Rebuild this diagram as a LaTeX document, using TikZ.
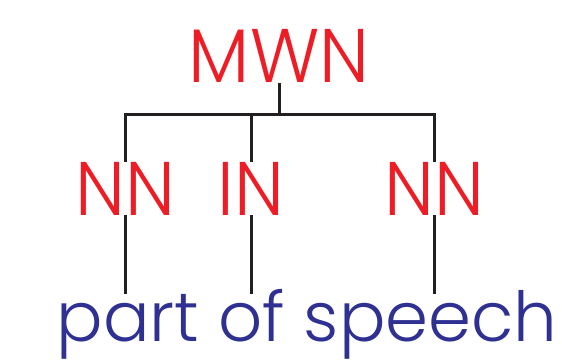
\documentclass[tikz,border=0pt]{standalone}
\usepackage{fontspec}
\usepackage{graphicx}
\setmainfont{Poppins}[UprightFont=* Light]
\definecolor{tred}{HTML}{EE1C25}
\definecolor{tblue}{HTML}{2E3192}
\definecolor{tline}{HTML}{231F20}
\newcommand{\capsx}[1]{\scalebox{0.955}[1]{#1}}
\newcommand{\wordsx}[1]{\scalebox{1.0}[1]{#1}}
\begin{document}
\begin{tikzpicture}[x=1pt,y=1pt,
  cat/.style={text=tred,inner sep=0pt,anchor=base,font=\fontsize{76}{76}\selectfont},
  words/.style={text=tblue,inner sep=0pt,anchor=base,font=\fontsize{69}{69}\selectfont},
  conn/.style={draw=tline,line width=3pt}]
\useasboundingbox (0,0) rectangle (562,362);
\node[cat] (mwn) at (279,279) {\capsx{MWN}};
\node[cat] (nn1) at (125,147) {\capsx{NN}};
\node[cat] (in) at (251,147) {\capsx{IN}};
\node[cat] (nn2) at (434,147) {\capsx{NN}};
\node[words] (pos) at (307,21) {\wordsx{part of speech}};
\coordinate (bar) at (0,247);
\coordinate (low) at (0,68);
\draw[conn] (mwn.south) -- (mwn.south |- bar);
\draw[conn] (nn1.north) |- (nn2.north |- bar) -- (nn2.north);
\draw[conn] (in.north) -- (in.north |- bar);
\draw[conn] (nn1.south) -- (nn1.south |- low);
\draw[conn] (in.south) -- (in.south |- low);
\draw[conn] (nn2.south) -- (nn2.south |- low);
\end{tikzpicture}
\end{document}
